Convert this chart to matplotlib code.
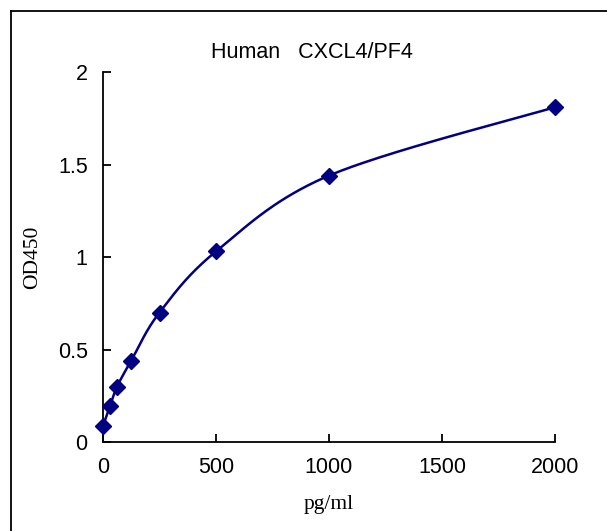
import numpy as np
import matplotlib
matplotlib.use("Agg")
import matplotlib.pyplot as plt
from matplotlib.lines import Line2D

# standard curve values
conc = [0, 31.25, 62.5, 125, 250, 500, 1000, 2000]
od = [0.086, 0.195, 0.30, 0.44, 0.70, 1.03, 1.44, 1.81]
x_ticks = [0, 500, 1000, 1500, 2000]
y_ticks = [0, 0.5, 1, 1.5, 2]
y_tick_labels = ["0", "0.5", "1", "1.5", "2"]


# smoothed line through the points, bezier segments like a spreadsheet chart
def smooth_line(x, y, sx, sy, steps=60):
    p = np.column_stack([np.asarray(x, float) * sx, np.asarray(y, float) * sy])
    n = len(p)
    out = []
    t = np.linspace(0, 1, steps)[:, None]
    for i in range(n - 1):
        p0 = p[max(i - 1, 0)]
        p1 = p[i]
        p2 = p[i + 1]
        p3 = p[min(i + 2, n - 1)]
        b1 = p1 + (p2 - p0) / 6
        b2 = p2 - (p3 - p1) / 6
        seg = ((1 - t) ** 3 * p1 + 3 * (1 - t) ** 2 * t * b1
               + 3 * (1 - t) * t ** 2 * b2 + t ** 3 * p2)
        out.append(seg)
    pts = np.vstack(out)
    return pts[:, 0] / sx, pts[:, 1] / sy


fig = plt.figure(figsize=(6.07, 5.31), dpi=100)
ax = fig.add_axes([0.1697, 0.1676, 0.7446, 0.6968])

navy = "#000080"
# scale to pixel lengths so the smoothing follows the drawn shape
lx, ly = smooth_line(conc, od, 452 / 2000, 370 / 2)
ax.plot(lx, ly, color=navy, lw=1.8, zorder=2, clip_on=False)
ax.plot(conc, od, linestyle="none", marker="D", ms=8.5, color=navy,
        zorder=3, clip_on=False)

ax.set_xlim(0, 2000)
ax.set_ylim(0, 2)
ax.set_xticks(x_ticks)
ax.set_yticks(y_ticks)
ax.set_yticklabels(y_tick_labels)

for side in ["top", "right"]:
    ax.spines[side].set_visible(False)
for side in ["left", "bottom"]:
    ax.spines[side].set_linewidth(1.3)

ax.tick_params(direction="in", length=6, width=1.3, labelsize=15.5, pad=11)
for lab in ax.get_xticklabels() + ax.get_yticklabels():
    lab.set_fontfamily("Liberation Sans")

ax.set_xlabel("pg/ml", fontfamily="Liberation Serif", fontsize=15.5, labelpad=12)
ax.set_ylabel("OD450", fontfamily="Liberation Serif", fontsize=15.5, labelpad=11)

fig.text(0.514, 0.902, "Human   CXCL4/PF4", ha="center", va="center",
         fontfamily="Liberation Sans", fontsize=15.5)

# outer frame, left and top edges only show in the picture
fig.add_artist(Line2D([0.0181, 0.0181], [0.0, 0.9793], color="black", lw=1.3,
                      transform=fig.transFigure))
fig.add_artist(Line2D([0.0181, 1.0], [0.9793, 0.9793], color="black", lw=1.3,
                      transform=fig.transFigure))

fig.savefig("out.png", dpi=100)
